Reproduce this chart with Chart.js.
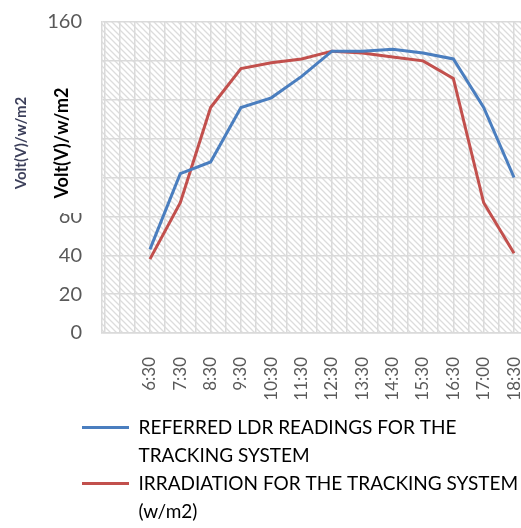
<!DOCTYPE html>
<html>
<head>
<meta charset="utf-8">
<script src="https://cdn.jsdelivr.net/npm/chart.js@4"></script>
<style>
  html, body { margin: 0; padding: 0; background: #fff; }
  #wrap { width: 521px; height: 528px; }
</style>
</head>
<body>
<div id="wrap"><canvas id="chart" width="521" height="528"></canvas></div>
<script>
const times = ["6:30", "7:30", "8:30", "9:30", "10:30", "11:30", "12:30", "13:30", "14:30", "15:30", "16:30", "17:00", "18:30"];
const ldrReadings = [43, 82, 88, 116, 121, 132, 145, 145, 146, 144, 141, 116, 80];
const irradiation = [38, 67, 116, 136, 139, 141, 145, 144, 142, 140, 131, 67, 41];
const seriesNames = [
  ["REFERRED LDR READINGS FOR THE", "TRACKING SYSTEM"],
  ["IRRADIATION FOR THE TRACKING SYSTEM", "(w/m2)"]
];
const seriesColors = ["#4a7ebf", "#c2504d"];
const yTicks = [0, 20, 40, 60, 80, 100, 120, 140, 160];
const axisTitle = "Volt(V)/w/m2";

const gridColor = "#dadada";

function hatchPattern(ctx) {
  const c = document.createElement("canvas");
  c.width = 6; c.height = 6;
  const p = c.getContext("2d");
  p.fillStyle = "#ffffff";
  p.fillRect(0, 0, 6, 6);
  p.strokeStyle = "#dcdcdc";
  p.lineWidth = 1.3;
  p.beginPath();
  p.moveTo(-1, -1); p.lineTo(7, 7);
  p.moveTo(-4, 2); p.lineTo(1, 7);
  p.moveTo(5, -1); p.lineTo(7, 1);
  p.stroke();
  return ctx.createPattern(c, "repeat");
}

// hatch behind the plot, covering box + titles on the left, legend nudged right
const decor = {
  id: "decor",
  afterLayout(chart) {
    chart.legend.left = 73;
    chart.legend.top = 409;
  },
  beforeDraw(chart) {
    const { ctx, chartArea: a } = chart;
    ctx.save();
    ctx.fillStyle = hatchPattern(ctx);
    ctx.fillRect(a.left, a.top, a.right - a.left, a.bottom - a.top);
    ctx.restore();
  },
  afterDraw(chart) {
    const ctx = chart.ctx;
    ctx.save();
    ctx.fillStyle = "#ffffff";
    ctx.fillRect(42, 42, 50, 171);
    ctx.textAlign = "center";
    ctx.textBaseline = "middle";
    ctx.translate(62, 143);
    ctx.rotate(-Math.PI / 2);
    ctx.fillStyle = "#000000";
    ctx.font = "bold 18px Lato";
    ctx.fillText(axisTitle, 0, 0);
    ctx.restore();

    ctx.save();
    ctx.textAlign = "center";
    ctx.textBaseline = "middle";
    ctx.translate(21, 143);
    ctx.rotate(-Math.PI / 2);
    ctx.fillStyle = "#3c3f5a";
    ctx.font = "bold 15px Lato";
    ctx.fillText(axisTitle, 0, 0);
    ctx.restore();
  }
};

const ctx = document.getElementById("chart").getContext("2d");
const chart = new Chart(ctx, {
  type: "line",
  data: {
    datasets: [
      {
        label: seriesNames[0].join(" "),
        data: ldrReadings.map((v, i) => ({ x: i, y: v })),
        borderColor: seriesColors[0],
        backgroundColor: seriesColors[0]
      },
      {
        label: seriesNames[1].join(" "),
        data: irradiation.map((v, i) => ({ x: i, y: v })),
        borderColor: seriesColors[1],
        backgroundColor: seriesColors[1]
      }
    ]
  },
  options: {
    responsive: false,
    animation: false,
    layout: { padding: { top: 22, right: 0, bottom: 0, left: 0 } },
    elements: {
      line: { borderWidth: 3, tension: 0 },
      point: { radius: 0 }
    },
    scales: {
      x: {
        type: "linear",
        min: -1.58,
        max: 12.23,
        ticks: {
          stepSize: 0.5,
          autoSkip: false,
          includeBounds: false,
          minRotation: 90,
          maxRotation: 90,
          padding: 24,
          color: "#595959",
          font: { family: "Lato", size: 17 },
          callback: v => (Number.isInteger(v) && v >= 0 && v < times.length) ? times[v] : ""
        },
        grid: { color: gridColor, lineWidth: 1.5, drawTicks: false },
        border: { color: gridColor, width: 1.5 },
        afterFit: s => { s.height = 73; s.paddingRight = 0; s.paddingLeft = 0; }
      },
      y: {
        min: yTicks[0],
        max: yTicks[yTicks.length - 1],
        ticks: {
          stepSize: 20,
          padding: 20,
          color: "#595959",
          font: { family: "Lato", size: 20 }
        },
        grid: { color: gridColor, lineWidth: 1.5, drawTicks: false },
        border: { color: gridColor, width: 1.5 },
        afterFit: s => { s.width = 102; s.paddingTop = 0; s.paddingBottom = 0; }
      }
    },
    plugins: {
      tooltip: { enabled: false },
      legend: {
        position: "bottom",
        align: "start",
        labels: {
          boxWidth: 47,
          boxHeight: 3,
          padding: 9,
          color: "#595959",
          font: { family: "Lato", size: 19 },
          generateLabels: c => {
            const items = [];
            c.data.datasets.forEach((ds, i) => {
              seriesNames[i].forEach((line, k) => {
                items.push({
                  text: line,
                  fillStyle: k === 0 ? ds.borderColor : "rgba(0,0,0,0)",
                  strokeStyle: "rgba(0,0,0,0)",
                  lineWidth: 0,
                  datasetIndex: i
                });
              });
            });
            return items;
          }
        }
      }
    }
  },
  plugins: [decor]
});
</script>
</body>
</html>
